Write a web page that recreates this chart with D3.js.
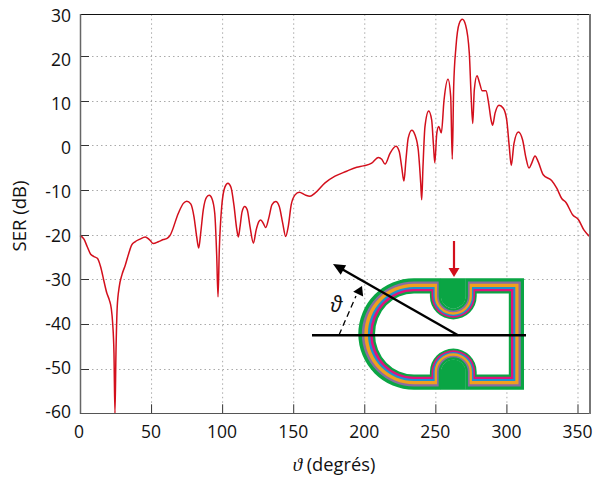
<!DOCTYPE html>
<html><head><meta charset="utf-8">
<script src="https://d3js.org/d3.v7.min.js"></script>
<style>html,body{margin:0;padding:0;background:#fff}svg{display:block}text{font-family:"Open Sans",Lato,sans-serif;fill:#111}</style>
</head><body><svg id="c" width="595" height="477"></svg>
<script>
const angles=[0,2.8,5.1,7.5,9.8,12.2,14.6,16.9,18.8,20.6,22,23,23.9,24.6,25.3,26.2,27.6,29.5,31.9,34.3,36.4,38.7,42.2,45.9,48.8,51.6,55.1,58.6,61,63.3,69.2,72.7,75.1,77.9,80.2,82.1,83.5,84.9,86.7,89.1,91,92.8,94.8,96.2,97.1,98,99.7,102,104.1,106.2,108.3,110.2,111.4,112.6,114,115.9,117.7,119.6,122,123.9,125.8,127.2,129,130.7,132.8,135.1,137.7,140.2,142.6,144.7,146.5,148.6,151.3,154.3,158.3,161.8,165.3,172.4,179.4,187.6,194.7,199.3,205.2,209.9,212.3,214.6,218.1,222.3,224.6,226.3,227.9,229.3,230.9,233.4,235.7,238,239.7,240.4,241.3,242.7,245.3,247.4,248.6,249.6,251,252.4,254.2,256.1,258.9,260.8,261.9,262.9,264.5,266.8,269,271.3,273.9,275.1,276.3,277.4,279.3,280.9,283,285.6,287.5,289.2,290.3,292,294.8,297.8,300.2,302,303.4,305.3,308.4,311.4,313.8,315.9,317.8,320.1,322.4,325.9,331.8,335.4,338.9,341.9,346.7,350.6,354.6,358.8];
const serValues=[-20.2,-21,-22.7,-24.4,-24.9,-25.3,-27.3,-30.5,-33,-34.6,-36.5,-39.9,-46.5,-60,-46.5,-36.1,-31.7,-29,-26.8,-24.2,-22.3,-21.6,-21,-20.5,-21.1,-22,-21.6,-21.1,-20.9,-20.2,-15.2,-13,-12.5,-13.1,-16,-20.5,-23,-19.7,-14.5,-11.6,-11.2,-11.9,-15.2,-24.9,-33.9,-23.4,-13.7,-9.3,-8.5,-9.4,-13.4,-18.6,-20.5,-18.2,-14.9,-13.7,-14.5,-18.2,-21.9,-19,-17.1,-16.7,-17.5,-18.4,-16.3,-13.3,-12.6,-13.7,-17.4,-20.4,-18.2,-13.3,-11.1,-10.5,-11.1,-11.4,-10.7,-8.4,-6.9,-5.8,-4.9,-4.6,-4,-2.7,-3.1,-4.2,-1.8,-0.2,-1.4,-4.8,-8,-3.3,1.6,3.4,2.3,-1.1,-8.5,-12.2,-4.8,4.2,7.7,5.7,0.4,-3.9,2.7,4.2,2.8,10.1,14.8,10.9,-3.1,13.1,22.2,27.8,28.8,27.4,20.6,11.6,4.9,12.4,15.6,14.2,12.2,12.2,9.4,5.7,4.5,7.2,9,8.3,5.7,-0.3,-4.5,0.4,3,1.2,-2.9,-5.1,-4,-2.4,-3.7,-6.6,-7.9,-9.6,-11.9,-12.8,-15.6,-16.6,-19,-20.5];
const xTicks=[0,50,100,150,200,250,300,350];
const yTicks=[-60,-50,-40,-30,-20,-10,0,10,20,30];
const xTitle="(degrés)", yTitle="SER (dB)", thetaSymbol="ϑ";

const svg=d3.select("#c");
const x=d3.scaleLinear().domain([0,358.8]).range([80,590]);
const y=d3.scaleLinear().domain([-60,20,30]).range([413.3,56,14.3]);
const yLabel=d3.scaleLinear().domain([-60,30]).range([412,16]);
const tickLen=9;

// grid
svg.append("g").selectAll("line").data(xTicks.filter(d=>d>0)).join("line")
 .attr("x1",d=>x(d)+.5).attr("x2",d=>x(d)+.5).attr("y1",y(30)).attr("y2",y(-60)-tickLen)
 .attr("stroke","#aaa").attr("stroke-dasharray","1.5,3");
svg.append("g").selectAll("line").data(yTicks.filter(d=>d>-60&&d<30)).join("line")
 .attr("x1",x(0)+tickLen+3).attr("x2",590).attr("y1",d=>Math.round(y(d))+.5).attr("y2",d=>Math.round(y(d))+.5)
 .attr("stroke","#aaa").attr("stroke-dasharray","1.5,3");

// ticks
svg.append("g").selectAll("line").data(xTicks.filter(d=>d>0)).join("line")
 .attr("x1",d=>x(d)+.5).attr("x2",d=>x(d)+.5).attr("y1",y(-60)).attr("y2",y(-60)-tickLen).attr("stroke","#333");
svg.append("g").selectAll("line").data(yTicks.filter(d=>d>-60&&d<30)).join("line")
 .attr("x1",x(0)).attr("x2",x(0)+tickLen).attr("y1",d=>Math.round(y(d))+.5).attr("y2",d=>Math.round(y(d))+.5).attr("stroke","#333");

// curve
const line=d3.line().x(d=>x(d[0])).y(d=>y(d[1])).curve(d3.curveMonotoneX);
svg.append("path").datum(angles.map((a,i)=>[a,serValues[i]])).attr("d",line)
 .attr("fill","none").attr("stroke","#d30f1c").attr("stroke-width",1.5).attr("stroke-linejoin","round");

// frame
svg.append("line").attr("x1",80).attr("x2",590).attr("y1",14.5).attr("y2",14.5).attr("stroke","#111");
svg.append("line").attr("x1",80.5).attr("x2",80.5).attr("y1",14).attr("y2",414).attr("stroke","#666").attr("stroke-width",1.5);
svg.append("line").attr("x1",80).attr("x2",591).attr("y1",413.5).attr("y2",413.5).attr("stroke","#555").attr("stroke-width",1.2);
svg.append("line").attr("x1",590).attr("x2",590).attr("y1",14).attr("y2",414).attr("stroke","#777").attr("stroke-width",2);

// tick labels
svg.append("g").selectAll("text").data(xTicks).join("text")
 .attr("x",d=>x(d)-(d==0?1:0)).attr("y",437.5).attr("text-anchor","middle").attr("font-size",17.5).text(d=>d);
svg.append("g").selectAll("text").data(yTicks).join("text")
 .attr("x",71).attr("y",d=>yLabel(d)+6).attr("text-anchor","end").attr("font-size",17.5).text(d=>d);

// titles
const xt=svg.append("text").attr("x",334).attr("y",471).attr("text-anchor","middle").attr("font-size",18.3);
xt.append("tspan").attr("font-family","'Liberation Serif',serif").attr("font-style","italic").attr("font-size",19).text(thetaSymbol);
xt.append("tspan").text(" "+xTitle);
svg.append("text").attr("transform","translate(26,216) rotate(-90)").attr("text-anchor","middle").attr("font-size",18.5).text(yTitle);

// inset : device cross-section, painted as nested fills
const cx=453.3, cyT=296, cyB=372, ax=414;
function contour(d){
  const top=278.3+d,bot=389.7-d,right=524-d,ry=55.7-d,rx=55.7-1.1*d,nr=12.3+0.73*d;
  return `M${right},${top}H${cx+nr}V${cyT}A${nr},${nr} 0 0 1 ${cx-nr},${cyT}V${top}H${ax}A${rx},${ry} 0 0 0 ${ax},${bot}H${cx-nr}V${cyB}A${nr},${nr} 0 0 1 ${cx+nr},${cyB}V${bot}H${right}Z`;
}
const bandInset=[0,3.2,5.5,8.7,10.7,13,15.2];
const bandColor=["#0aa544","#8a6ca0","#f0a01e","#1c90d2","#e0127c","#0aa544","#ffffff"];
const g=svg.append("g");
bandInset.forEach((d,i)=>g.append("path").attr("d",contour(d)).attr("fill",bandColor[i]));
g.append("path").attr("d",`M${cx-12.5},278.3H${cx+12.5}V${cyT}A12.5,12.5 0 0 1 ${cx-12.5},${cyT}Z`).attr("fill","#0aa544");
g.append("path").attr("d",`M${cx-12.5},389.7H${cx+12.5}V${cyB}A12.5,12.5 0 0 0 ${cx-12.5},${cyB}Z`).attr("fill","#0aa544");

function arrowHead(x1,y1,x2,y2,len,w,col){
  const t=Math.atan2(y2-y1,x2-x1),bx=x2-len*Math.cos(t),by=y2-len*Math.sin(t),nx=-Math.sin(t)*w,ny=Math.cos(t)*w;
  svg.append("path").attr("d",`M${x2},${y2}L${bx+nx},${by+ny}L${bx-nx},${by-ny}Z`).attr("fill",col);
}
// red arrow
svg.append("line").attr("x1",454).attr("x2",454).attr("y1",241).attr("y2",270).attr("stroke","#d30f1c").attr("stroke-width",2.2);
arrowHead(454,241,454,277,9,5.5,"#d30f1c");
// black lines
svg.append("line").attr("x1",312).attr("x2",526).attr("y1",335.3).attr("y2",335.3).attr("stroke","#000").attr("stroke-width",2.4);
svg.append("line").attr("x1",458).attr("x2",340).attr("y1",335.3).attr("y2",268).attr("stroke","#000").attr("stroke-width",2.4);
arrowHead(458,335.5,333,264,12,5.5,"#000");
// dashed angle
svg.append("line").attr("x1",339).attr("y1",335).attr("x2",356).attr("y2",296).attr("stroke","#000").attr("stroke-width",1.3).attr("stroke-dasharray","6,4");
arrowHead(339,335,362,286,9,5.5,"#000");
svg.append("text").attr("x",336.5).attr("y",312).attr("text-anchor","middle").attr("font-family","'Liberation Serif',serif").attr("font-style","italic").attr("font-size",21).text(thetaSymbol);
</script></body></html>
